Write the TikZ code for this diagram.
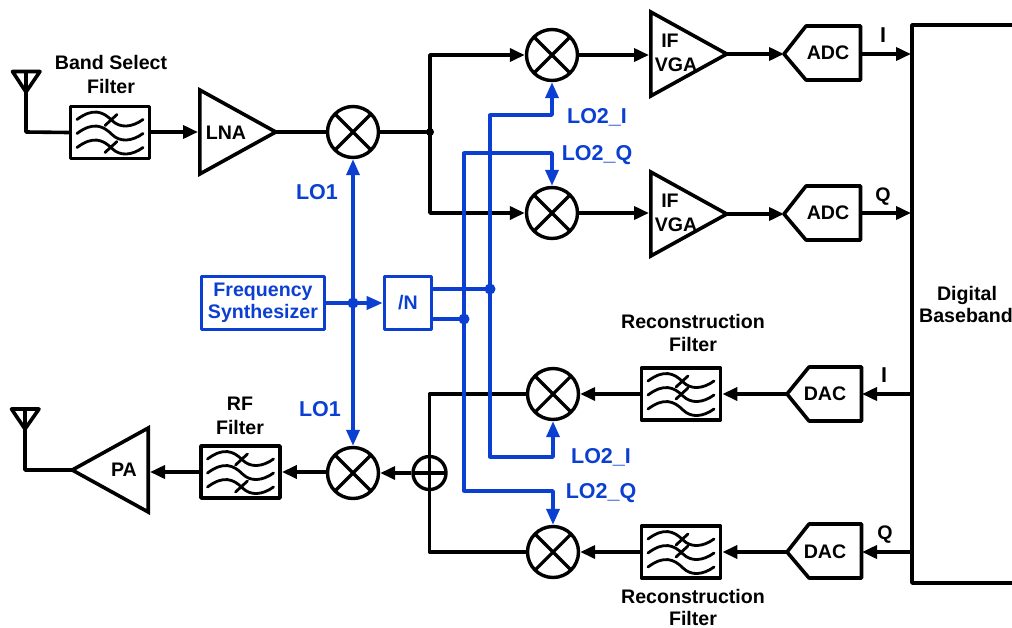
\documentclass[tikz,border=0pt]{standalone}
\usepackage{fontspec}
\setmainfont{Liberation Sans}
\usetikzlibrary{arrows.meta,shapes.geometric}
\definecolor{lo}{HTML}{0B3FD2}
\tikzset{
  wire/.style={line width=3.6pt,line join=round,line cap=round},
  arr/.style={wire,line cap=butt,-{Triangle[length=15pt,width=13pt]}},
  bluewire/.style={wire,draw=lo},
  bluearr/.style={wire,draw=lo,line cap=butt,-{Triangle[length=16pt,width=13pt]}},
  txt/.style={font=\fontsize{19.6}{22}\selectfont\bfseries,align=center,inner sep=0pt,text depth=0pt},
  bluetxt/.style={txt,text=lo,font=\fontsize{21.5}{24}\selectfont\bfseries},
  mixer/.style={circle,draw,line width=3.4pt,minimum size=51pt,inner sep=0pt,
    path picture={\draw[line width=3.2pt] (path picture bounding box.north west)--(path picture bounding box.south east)
      (path picture bounding box.north east)--(path picture bounding box.south west);}},
  summer/.style={circle,draw,line width=3.4pt,minimum size=33pt,inner sep=0pt,
    path picture={\draw[line width=3.2pt] (path picture bounding box.north)--(path picture bounding box.south)
      (path picture bounding box.east)--(path picture bounding box.west);}},
  fbox/.style={rectangle,draw,line width=3.8pt,line join=round,minimum width=79pt,minimum height=52pt,inner sep=0pt},
  bbox/.style={rectangle,draw=lo,text=lo,line width=3.6pt,line join=round,inner sep=0pt},
  amp/.style={isosceles triangle,isosceles triangle stretches,draw,line width=3.6pt,line join=miter,miter limit=10,
    minimum height=76pt,minimum width=84pt,inner sep=0pt,anchor=lower side},
  ampl/.style={amp,shape border rotate=180,anchor=lower side},
  dotb/.style={circle,fill=black,minimum size=8pt,inner sep=0pt},
  dotl/.style={circle,fill=lo,minimum size=11pt,inner sep=0pt},
  wave/.style={line width=2.8pt,line cap=round},
}
\newcommand{\waves}[3]{%
  \begin{scope}[shift={(#1)},wave]
    \foreach \o in {-13,1,15}{
      \draw (-33,\o) .. controls (-17,{\o-12}) and (-7,{\o-8}) .. (2,{\o+1}) .. controls (10,{\o+9}) and (22,{\o+8}) .. (33,\o);
    }
    \draw (-5,{#2+6}) -- (7,{#2-5});
    \draw (-5,{#3+6}) -- (7,{#3-5});
  \end{scope}}
\begin{document}
\begin{tikzpicture}[x=1pt,y=-1pt]
\useasboundingbox (0,0) rectangle (1012,627);

% receive path
\coordinate (antrx) at (26,92);
\coordinate (antrxb) at (26,132);
\draw[wire] (12.5,71.5) -- (40,71.5) -- (antrx) -- cycle (26,71.5) -- (antrx);
\node[fbox] (bsf) at (110,132.5) {};
\waves{110,132.5}{-13}{14}
\node[txt] (bsft) at (111,62) {Band Select};
\node[txt] (bsft2) at (111,86) {Filter};
\draw[wire] (antrx) -- (antrxb) -- (bsf.west);
\node[amp] (lna) at (198,132) {};
\node[txt] (lnat) at (226,133) {LNA};
\draw[arr] (bsf.east |- lna.lower side) -- (lna.lower side);
\node[mixer] (m1) at (353,132) {};
\draw[wire] ([xshift=-5pt]lna.apex) -- (m1.west);
\node[dotb] (d1) at (430,132) {};
\draw[wire] (m1.east) -- (d1);
\node[mixer] (mi) at (552,55) {};
\node[mixer] (mq) at (552,213) {};
\draw[arr] (d1.center) |- (mi.west);
\draw[arr] (d1.center) |- (mq.west);

\node[amp] (vga1) at (649,54) {};
\node[txt,anchor=center] (vga1a) at (670,41) {IF};
\node[txt] (vga1b) at (676,65) {VGA};
\node[amp] (vga2) at (649,214) {};
\node[txt] (vga2a) at (670,201) {IF};
\node[txt] (vga2b) at (676,225) {VGA};
\draw[arr] (mi.east) -- (mi.east -| vga1.lower side);
\draw[arr] (mq.east) -- (mq.east -| vga2.lower side);

\coordinate (adc1in) at (784,54);
\coordinate (adc1out) at (861,54);
\draw[wire] (adc1in) -- (806,26) -- (860.5,26) -- (860.5,80) -- (806,80) -- cycle;
\node[txt] (adc1) at (828,53) {ADC};
\coordinate (adc2in) at (784,214);
\coordinate (adc2out) at (861,213);
\draw[wire] (adc2in) -- (806,186) -- (860.5,186) -- (860.5,240) -- (806,240) -- cycle;
\node[txt] (adc2) at (828,213) {ADC};
\draw[arr] ([xshift=-5pt]vga1.apex) -- (adc1in);
\draw[arr] ([xshift=-5pt]vga2.apex) -- (adc2in);

% baseband
\coordinate (bbi) at (911,54);
\coordinate (bbq) at (911,213);
\coordinate (bbdi) at (913,394);
\coordinate (bbdq) at (913,552);
\draw[wire] (1014,25) -- (912,25) -- (912,583) -- (1014,583);
\node[txt] (bb1) at (967,293) {Digital};
\node[txt] (bb2) at (966,315) {Baseband};
\draw[arr] (adc1out) -- (bbi);
\draw[arr] (adc2out) -- (bbq);
\node[txt,font=\fontsize{21.5}{24}\selectfont\bfseries] (li1) at (883,35) {I};
\node[txt] (lq1) at (883,195) {Q};
\node[txt,font=\fontsize{21.5}{24}\selectfont\bfseries] (li2) at (884,375) {I};
\node[txt] (lq2) at (885,533) {Q};

% transmit path
\coordinate (dac1in) at (862,394);
\coordinate (dac1out) at (787,394);
\draw[wire] (dac1out) -- (809,367) -- (861.5,367) -- (861.5,421) -- (809,421) -- cycle;
\node[txt] (dac1) at (825,394) {DAC};
\coordinate (dac2in) at (862,552);
\coordinate (dac2out) at (787,552);
\draw[wire] (dac2out) -- (809,524) -- (861.5,524) -- (861.5,578) -- (809,578) -- cycle;
\node[txt] (dac2) at (825,552) {DAC};
\draw[arr] (bbdi) -- (dac1in);
\draw[arr] (bbdq) -- (dac2in);

\node[fbox] (rf1) at (681,394) {};
\waves{681,394}{-13}{-1}
\node[fbox] (rf2) at (681,552) {};
\waves{681,552}{-13}{-1}
\node[txt] (rf1a) at (693,321.5) {Reconstruction};
\node[txt] (rf1b) at (693,344.5) {Filter};
\node[txt] (rf2a) at (693,596.5) {Reconstruction};
\node[txt] (rf2b) at (693,618) {Filter};
\draw[arr] (dac1out) -- (rf1.east);
\draw[arr] (dac2out) -- (rf2.east);

\node[mixer] (mti) at (553,394) {};
\node[mixer] (mtq) at (553,552) {};
\draw[arr] (rf1.west) -- (mti.east);
\draw[arr] (rf2.west) -- (mtq.east);

\node[summer] (sum) at (429.5,473) {};
\draw[wire] (mti.west) -| (sum.north);
\draw[wire] (mtq.west) -| (sum.south);
\node[mixer] (m2) at (353,473) {};
\draw[arr] (sum.west) -- (m2.east);
\node[fbox] (rff) at (240.5,472) {};
\waves{240.5,472}{-13}{14}
\node[txt] (rfa) at (240,404) {RF};
\node[txt] (rfb) at (240,427) {Filter};
\draw[arr] (m2.west |- rff.east) -- (rff.east);
\node[ampl] (pa) at (150,470) {};
\node[txt] (pat) at (124,470) {PA};
\draw[arr] (rff.west) -- (rff.west -| pa.lower side);
\coordinate (anttx) at (25,429);
\draw[wire] (11.5,409) -- (39,409) -- (anttx) -- cycle (25,409) -- (anttx);
\draw[wire] (anttx) |- ([xshift=4pt]pa.apex);

% LO distribution
\node[bbox,minimum width=123pt,minimum height=53pt,font=\fontsize{19.6}{22}\selectfont\bfseries,align=center] (fs) at (263,303) {Frequency\\Synthesizer};
\node[bbox,minimum width=47pt,minimum height=53pt,font=\fontsize{19.6}{22}\selectfont\bfseries] (div) at (408,303) {/N};
\node[dotl] (d2) at (353,303) {};
\draw[bluewire] (fs.east) -- (d2);
\draw[bluearr] (d2.center) -- (div.west);
\draw[bluearr] (d2.center) -- (m1.south);
\draw[bluearr] (d2.center) -- (m2.north);
\node[bluetxt] (lo1a) at (317,192) {LO1};
\node[bluetxt] (lo1b) at (320,409) {LO1};

\node[dotl] (di) at (490,289) {};
\node[dotl] (dq) at (464,319) {};
\draw[bluewire] (div.east |- di) -- (di);
\draw[bluewire] (div.east |- dq) -- (dq);
\coordinate (ti) at (490,115);
\coordinate (bi) at (490,457);
\coordinate (tq) at (464,153);
\coordinate (bq) at (464,491);
\draw[bluewire] (ti) -- (bi);
\draw[bluewire] (tq) -- (bq);
\draw[bluearr] (ti) -| (mi.south);
\draw[bluearr] (bi) -| (mti.south);
\draw[bluearr] (tq) -| (mq.north);
\draw[bluearr] (bq) -| (mtq.north);
\node[bluetxt] (l2a) at (597,116) {LO2\_I};
\node[bluetxt] (l2b) at (597,153) {LO2\_Q};
\node[bluetxt] (l2c) at (601,456) {LO2\_I};
\node[bluetxt] (l2d) at (601,491) {LO2\_Q};
\end{tikzpicture}
\end{document}
